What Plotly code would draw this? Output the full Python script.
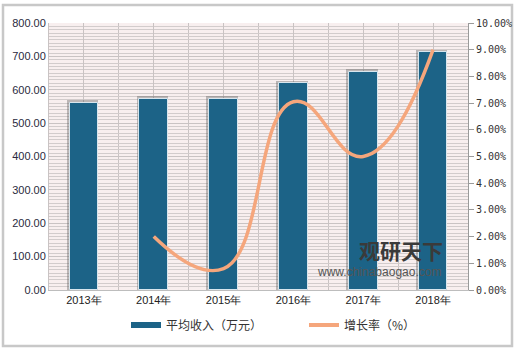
import plotly.graph_objects as go

years = ["2013年", "2014年", "2015年", "2016年", "2017年", "2018年"]
income = [561, 572, 573, 619, 653, 712]
growth_years = ["2014年", "2015年", "2016年", "2017年", "2018年"]
growth = [2.0, 0.8, 7.05, 5.0, 9.0]

xi = list(range(len(years)))
gx = [years.index(y) for y in growth_years]

bar_color = "#1c6387"
line_color = "#f5a67c"

fig = go.Figure()
# soft shadow behind the bars
fig.add_trace(go.Bar(x=xi, y=[v + 8 for v in income], width=0.45, offset=-0.245,
                     marker=dict(color="rgba(90,90,90,0.38)", line=dict(width=0)),
                     showlegend=False, hoverinfo="skip"))
fig.add_trace(go.Bar(x=xi, y=income, name="平均收入（万元）", width=0.41, offset=-0.205,
                     marker=dict(color=bar_color, line=dict(color="#d8e6ee", width=1)),
                     showlegend=False))
fig.add_trace(go.Scatter(x=gx, y=growth, name="增长率（%）", yaxis="y2", mode="lines",
                         line=dict(color=line_color, width=3.5, shape="spline", smoothing=1.3),
                         showlegend=False))
# legend entries
fig.add_trace(go.Scatter(x=[None], y=[None], mode="lines", name="平均收入（万元）",
                         line=dict(color=bar_color, width=6)))
fig.add_trace(go.Scatter(x=[None], y=[None], mode="lines", name="增长率（%）",
                         line=dict(color=line_color, width=4)))

fig.update_layout(
    width=520, height=352,
    margin=dict(l=49, r=52, t=23, b=62, autoexpand=False),
    paper_bgcolor="white", plot_bgcolor="#f8efef",
    barmode="overlay", bargap=0,
    font=dict(family="Liberation Sans, Arial", color="#333"),
    xaxis=dict(range=[-0.5, 5.5], tickvals=xi, ticktext=years, showgrid=True,
               gridcolor="#c9c3c3", gridwidth=1,
               minor=dict(dtick=0.5, tick0=-0.5, showgrid=True, gridcolor="#c9c3c3"),
               showline=True, linecolor="#bdbdbd", ticks="",
               tickfont=dict(size=11, color="#222", family="Liberation Sans, Arial"),
               zeroline=False, fixedrange=True),
    yaxis=dict(range=[0, 800], dtick=100, tickformat=".2f", showgrid=True,
               gridcolor="#c9c3c3", gridwidth=1,
               minor=dict(dtick=10, showgrid=True, gridcolor="#d2cccc"),
               showline=True, linecolor="#c9c3c3", ticks="",
               tickfont=dict(size=11, color="#2a2a40"), zeroline=False),
    yaxis2=dict(range=[0, 10], dtick=1, tickformat=".2f", ticksuffix="%", overlaying="y",
                side="right", showgrid=False, showline=True, linecolor="#9a9a9a",
                ticks="outside", ticklen=5, tickcolor="#9a9a9a",
                tickfont=dict(size=10, color="#333", family="DejaVu Sans Mono"), zeroline=False),
    legend=dict(orientation="h", x=(126 - 49) / 419, xanchor="left",
                yref="container", y=(352 - 325) / 352, yanchor="middle",
                font=dict(size=12, color="#333", family="Noto Sans CJK SC"),
                itemwidth=30, entrywidth=133, tracegroupgap=0, bgcolor="rgba(0,0,0,0)"),
    shapes=[dict(type="rect", xref="paper", yref="paper",
                 x0=-46 / 419, x1=1 + 44 / 419, y0=-56 / 267, y1=1 + 18 / 267,
                 line=dict(color="#c8c8c8", width=2.5), layer="below")],
    annotations=[
        dict(text="<b>观研天下</b>", xref="paper", yref="paper", x=(357 - 49) / 419,
             y=(290 - 250) / 267, xanchor="left", yanchor="middle", showarrow=False,
             font=dict(size=21, color="#3a3a3a", family="Noto Sans CJK SC")),
        dict(text="www.chinabaogao.com", xref="paper", yref="paper", x=(315 - 49) / 419,
             y=(290 - 272) / 267, xanchor="left", yanchor="middle", showarrow=False,
             font=dict(size=12, color="#555", family="Liberation Sans, Arial")),
    ],
)

fig.write_html("out.html")
